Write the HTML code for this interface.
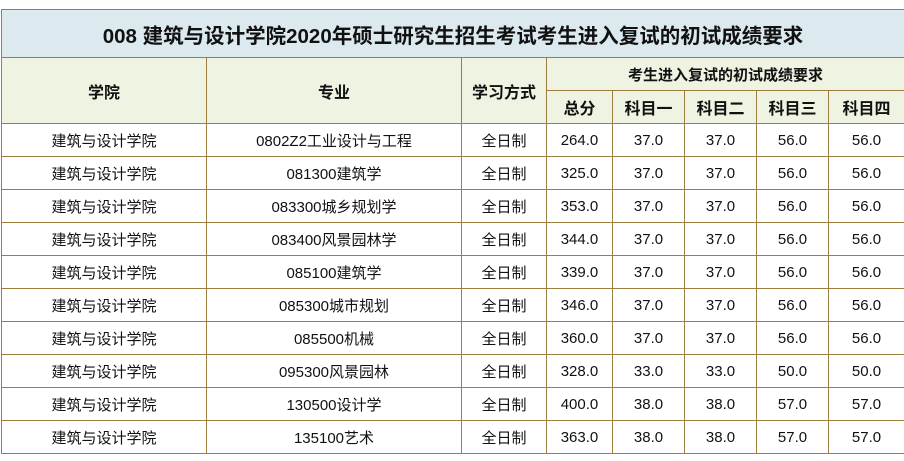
<!DOCTYPE html><html><head><meta charset="utf-8"><style>
body{margin:0;width:904px;height:461px;background:#fff;overflow:hidden;font-family:"Liberation Sans","Noto Sans CJK SC",sans-serif}
.c{position:absolute;box-sizing:border-box;border:1px solid #9c7f3f;display:flex;align-items:center;justify-content:center;font-size:15px;color:#111}
.h{background:#eef3e2;font-weight:bold;font-size:16px}
</style></head><body>
<div id="t"></div>
<script>
var X=[1,206,461,546,612,684,756,828,904];
var H='';
function c(x1,y1,x2,y2,txt,cls,extra){H+='<div class="c '+(cls||'')+'" style="left:'+x1+'px;top:'+y1+'px;width:'+(x2-x1+1)+'px;height:'+(y2-y1+1)+'px;'+(extra||'')+'">'+txt+'</div>';}
c(1,9,904,57,'008 建筑与设计学院2020年硕士研究生招生考试考生进入复试的初试成绩要求','','background:#dce9ef;font-weight:bold;font-size:20.5px');
c(X[0],57,X[1],123,'学院','h');c(X[1],57,X[2],123,'专业','h');c(X[2],57,X[3],123,'学习方式','h');
c(X[3],57,904,90,'考生进入复试的初试成绩要求','h','font-size:15px');
var s=['总分','科目一','科目二','科目三','科目四'];
for(var i=0;i<5;i++)c(X[3+i],90,X[4+i],123,s[i],'h');
var R=[['0802Z2工业设计与工程','264.0','37.0','37.0','56.0','56.0'],['081300建筑学','325.0','37.0','37.0','56.0','56.0'],['083300城乡规划学','353.0','37.0','37.0','56.0','56.0'],['083400风景园林学','344.0','37.0','37.0','56.0','56.0'],['085100建筑学','339.0','37.0','37.0','56.0','56.0'],['085300城市规划','346.0','37.0','37.0','56.0','56.0'],['085500机械','360.0','37.0','37.0','56.0','56.0'],['095300风景园林','328.0','33.0','33.0','50.0','50.0'],['130500设计学','400.0','38.0','38.0','57.0','57.0'],['135100艺术','363.0','38.0','38.0','57.0','57.0']];
for(var r=0;r<10;r++){var y=123+r*33,y2=y+33;var v=['建筑与设计学院',R[r][0],'全日制'].concat(R[r].slice(1));
for(var j=0;j<8;j++)c(X[j],y,X[j+1],y2,v[j]);}
document.getElementById('t').innerHTML=H;
</script></body></html>
